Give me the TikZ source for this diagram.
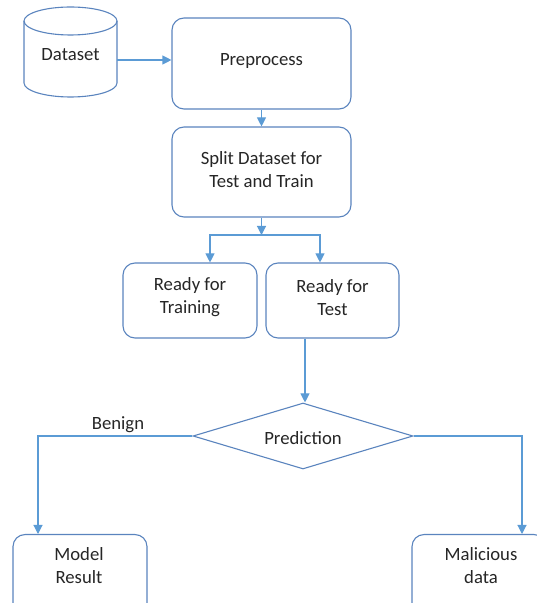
\documentclass[tikz,border=0pt]{standalone}
\usepackage{fontspec}
\setmainfont{Carlito}
\usetikzlibrary{shapes.geometric,arrows.meta}
\definecolor{bordc}{HTML}{5A84BE}
\definecolor{arrc}{HTML}{5B9BD5}
\definecolor{txtc}{HTML}{262626}
\tikzset{
  bord/.style={draw=bordc, line width=1.1pt},
  box/.style={bord, rounded corners=12pt, inner sep=0pt, fill=white},
  txt/.style={font=\fontsize{18.7}{23}\selectfont, text=txtc, align=center, inner sep=0pt},
  arr/.style={draw=arrc, line width=1.1pt, -{Triangle[length=9pt,width=9pt]}},
  ln/.style={draw=arrc, line width=1.1pt},
}
\begin{document}
\begin{tikzpicture}[x=1pt,y=1pt]
\path[use as bounding box] (0,0) rectangle (537,603);
\begin{scope}
\clip (0,0) rectangle (537,603);
% cylinder
\draw[bord, fill=white] (24,582) -- (24,520) arc[start angle=180,end angle=360,x radius=46.5,y radius=14] -- (117,582);
\draw[bord] (70.5,582) ellipse[x radius=46.5,y radius=14];
\node[txt, minimum width=93pt] (ds) at (70.5,548) {Dataset};
% boxes
\node[box, minimum width=179pt, minimum height=91pt] (pp) at (261.5,539.5) {};
\node[txt] (ppt) at (261.5,541.5) {Preprocess};
\node[box, minimum width=179pt, minimum height=90pt] (sp) at (261.5,431) {};
\node[txt] (spt) at (261.5,433) {Split Dataset for\\Test and Train};
\node[box, minimum width=134pt, minimum height=75pt] (tr) at (190,302.5) {};
\node[txt] (trt) at (190,306) {Ready for\\Training};
\node[box, minimum width=133pt, minimum height=75pt] (te) at (332.5,302.5) {};
\node[txt] (tet) at (332.5,305) {Ready for\\Test};
\node[bord, draw, shape=diamond, aspect=3.333, minimum width=220pt, minimum height=66pt, inner sep=0pt, fill=white] (pr) at (303,167) {};
\node[txt] (prt) at (303,165) {Prediction};
\node[box, minimum width=134pt, minimum height=90pt, anchor=north] (mr) at (80,69) {};
\node[txt] (mrt) at (79,37.5) {Model\\Result};
\node[box, minimum width=134pt, minimum height=90pt, anchor=north] (ml) at (479,69) {};
\node[txt] (mlt) at (481,37.5) {Malicious\\data};
\node[txt, anchor=south] (bn) at (118,170) {Benign};
% connectors
\coordinate (br) at (261.5,368);
\draw[arr] ([yshift=-5pt]ds.east) -- ([yshift=-5pt]ds.east -| pp.west);
\draw[arr] (pp.south) -- (sp.north);
\draw[arr] (sp.south) -- (br);
\draw[arr] (br) -| ([xshift=20pt]tr.north);
\draw[arr] (br) -| ([xshift=-12.5pt]te.north);
\draw[arr] ([xshift=2pt]pr.north |- te.south) -- ([xshift=2pt]pr.north);
\draw[arr] (pr.west) -| ([xshift=-42pt]mr.north);
\draw[arr] (pr.east) -| ([xshift=43pt]ml.north);
\end{scope}
\end{tikzpicture}
\end{document}
